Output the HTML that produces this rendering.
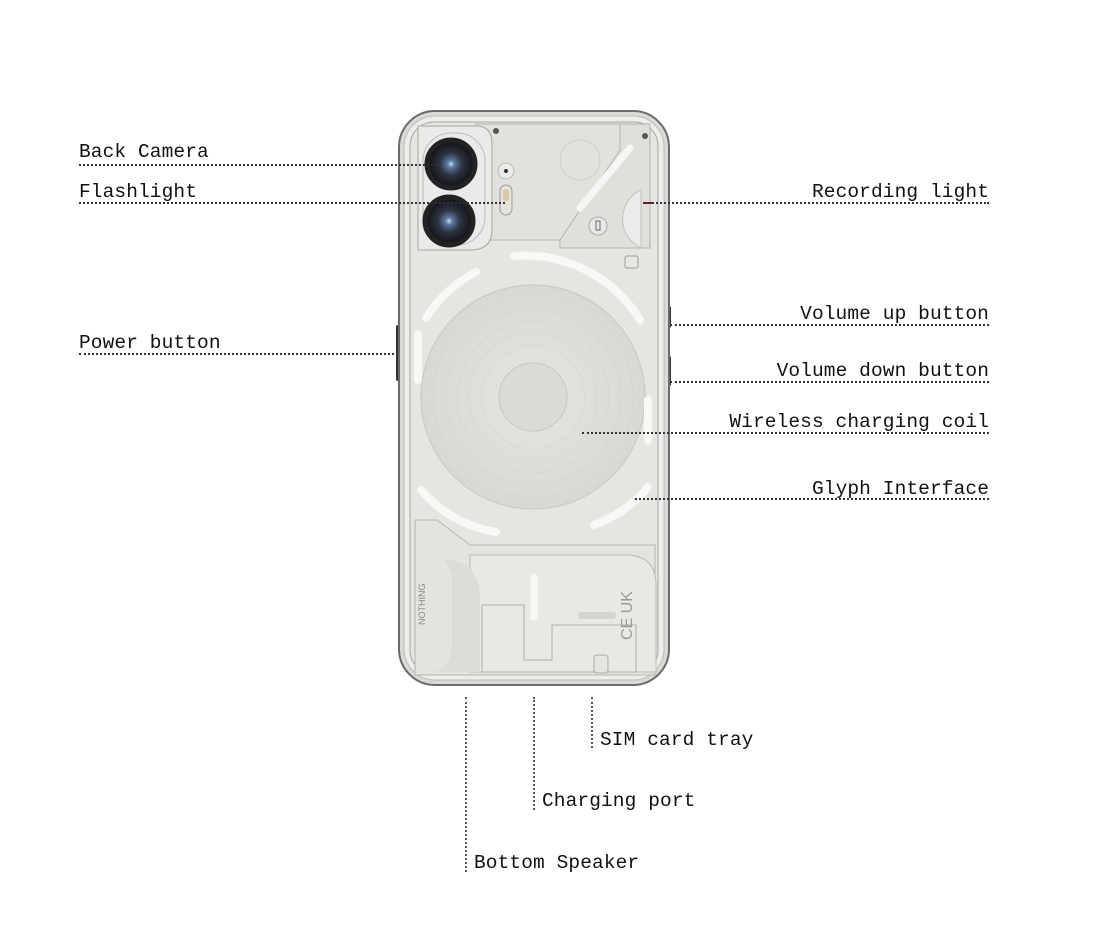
<!DOCTYPE html>
<html><head><style>
html,body{margin:0;padding:0;background:#fff;}
body{width:1096px;height:925px;position:relative;overflow:hidden;font-family:"Liberation Mono","DejaVu Sans Mono",monospace;}
.t{position:absolute;font-size:19.5px;color:#111;line-height:24px;white-space:nowrap;letter-spacing:0.1px}
.h{position:absolute;border-top:2px dotted #333;height:0}
.v{position:absolute;border-left:2px dotted #555;width:0}
</style></head><body>
<svg width="1096" height="925" style="position:absolute;left:0;top:0">
<defs>
<radialGradient id="coil" cx="50%" cy="50%" r="50%">
<stop offset="0" stop-color="#e6e5e2"/><stop offset="1" stop-color="#dad8d5"/>
</radialGradient>
<radialGradient id="lens" cx="50%" cy="50%" r="50%">
<stop offset="0" stop-color="#c8d8f0"/><stop offset="0.15" stop-color="#5a78a0"/><stop offset="0.45" stop-color="#2c3440"/><stop offset="1" stop-color="#0c0c0e"/>
</radialGradient>
</defs>
<rect x="396" y="325" width="5" height="56" rx="2" fill="#333"/>
<rect x="666" y="306" width="5" height="22" rx="2" fill="#333"/>
<rect x="666" y="356" width="5" height="30" rx="2" fill="#333"/>
<rect x="399" y="111" width="270" height="574" rx="36" fill="#dcdad7" stroke="#6b6a68" stroke-width="2"/>
<rect x="404" y="116" width="260" height="564" rx="31" fill="#eeedeb" stroke="#bdbbb8" stroke-width="1"/>
<rect x="410" y="122" width="248" height="552" rx="24" fill="#e6e5e2" stroke="#a9a7a4" stroke-width="1"/>
<path d="M476 124 H620 V240 H476 Z" fill="#e2e1de" stroke="#b5b3b0"/>
<path d="M620 124 H650 V248 H560 V240 L620 150 Z" fill="#e0dfdc" stroke="#b5b3b0"/>
<circle cx="580" cy="160" r="20" fill="none" stroke="#d0cecb"/>
<path d="M641 190 A32 32 0 0 0 641 248 Z" fill="#ecebe9" stroke="#c4c2bf"/>
<line x1="643" y1="203" x2="654" y2="203" stroke="#7a1a1a" stroke-width="2"/>
<line x1="630" y1="148" x2="580" y2="208" stroke="#f6f6f5" stroke-width="7" stroke-linecap="round"/>
<circle cx="598" cy="226" r="9" fill="#eae9e7" stroke="#aaa"/>
<rect x="596" y="221" width="4" height="9" fill="none" stroke="#666" stroke-width="1"/>
<rect x="625" y="256" width="13" height="12" rx="2" fill="#e8e7e4" stroke="#999"/>
<path d="M418 126 H476 Q492 126 492 144 V230 Q492 250 470 250 H418 Z" fill="#eceae8" stroke="#a8a6a3"/>
<rect x="423" y="133" width="62" height="112" rx="28" fill="none" stroke="#bcbab7"/>
<circle cx="451" cy="164" r="25" fill="url(#lens)"/>
<circle cx="451" cy="164" r="24" fill="none" stroke="#222" stroke-width="5"/>
<circle cx="449" cy="221" r="25" fill="url(#lens)"/>
<circle cx="449" cy="221" r="24" fill="none" stroke="#222" stroke-width="5"/>
<circle cx="506" cy="171" r="8" fill="#eceae8" stroke="#bbb"/>
<circle cx="506" cy="171" r="2" fill="#333"/>
<rect x="500" y="185" width="12" height="30" rx="6" fill="#e6e3dc" stroke="#999"/>
<rect x="503" y="189" width="6" height="12" rx="3" fill="#d8c8a0"/>
<g fill="#555"><circle cx="496" cy="131" r="3"/><circle cx="645" cy="136" r="3"/><circle cx="420" cy="660" r="3"/><circle cx="511" cy="661" r="3"/><circle cx="636" cy="664" r="3"/><circle cx="503" cy="619" r="3"/><circle cx="636" cy="617" r="3"/></g>
<circle cx="533" cy="397" r="112" fill="url(#coil)" stroke="#c8c6c3"/>
<g fill="none" stroke="#d0cecb" stroke-width="0.6" opacity="0.7">
<circle cx="533" cy="397" r="100"/><circle cx="533" cy="397" r="88"/><circle cx="533" cy="397" r="76"/><circle cx="533" cy="397" r="64"/><circle cx="533" cy="397" r="52"/>
</g>
<circle cx="533" cy="397" r="34" fill="#dcdad7" stroke="#c8c6c3"/>
<g fill="none" stroke="#f8f8f7" stroke-width="8" stroke-linecap="round">
<path d="M426 318 A130 130 0 0 1 476 272"/>
<path d="M514 256 A135 135 0 0 1 640 320"/>
<path d="M421 490 A125 125 0 0 0 496 532"/>
<path d="M594 525 A125 125 0 0 0 648 487"/>
<line x1="418" y1="334" x2="418" y2="380"/>
<line x1="648" y1="400" x2="648" y2="440"/>
</g>
<path d="M437 520 L470 545 H655 V675 H415 V520 Z" fill="#e4e3e0" stroke="#b7b5b2"/>
<path d="M470 555 H625 Q656 555 656 585 V672 H470 Z" fill="#e9e8e5" stroke="#bdbbb8"/>
<path d="M445 560 Q480 560 480 600 V672 H430 Q452 672 452 640 V575 Z" fill="#dddbd8"/>
<path d="M482 605 H524 V660 H552 V625 H636 V672 H482 Z" fill="none" stroke="#b0aeab"/>
<line x1="534" y1="577" x2="534" y2="617" stroke="#f7f7f6" stroke-width="7" stroke-linecap="round"/>
<rect x="578" y="612" width="38" height="7" rx="3" fill="#d6d4d1"/>
<rect x="594" y="655" width="14" height="18" rx="3" fill="#e6e5e2" stroke="#aaa"/>
<text x="425" y="625" transform="rotate(-90 425 625)" font-size="9" fill="#888" font-family="Liberation Sans,sans-serif">NOTHING</text>
<text x="632" y="640" transform="rotate(-90 632 640)" font-size="16" fill="#999" font-family="Liberation Sans,sans-serif">CE UK</text>
</svg>

<div class="t" style="left:79px;top:140px">Back Camera</div>
<div class="h" style="left:79px;top:164px;width:362px"></div>
<div class="t" style="left:79px;top:180px">Flashlight</div>
<div class="h" style="left:79px;top:202px;width:426px"></div>
<div class="t" style="left:79px;top:331px">Power button</div>
<div class="h" style="left:79px;top:353px;width:319px"></div>

<div class="t" style="right:107px;top:180px">Recording light</div>
<div class="h" style="left:645px;top:202px;width:344px"></div>
<div class="t" style="right:107px;top:302px">Volume up button</div>
<div class="h" style="left:670px;top:324px;width:319px"></div>
<div class="t" style="right:107px;top:359px">Volume down button</div>
<div class="h" style="left:670px;top:381px;width:319px"></div>
<div class="t" style="right:107px;top:410px">Wireless charging coil</div>
<div class="h" style="left:582px;top:432px;width:407px"></div>
<div class="t" style="right:107px;top:477px">Glyph Interface</div>
<div class="h" style="left:635px;top:498px;width:354px"></div>

<div class="v" style="left:591px;top:697px;height:51px"></div>
<div class="t" style="left:600px;top:728px">SIM card tray</div>
<div class="v" style="left:533px;top:697px;height:113px"></div>
<div class="t" style="left:542px;top:789px">Charging port</div>
<div class="v" style="left:465px;top:697px;height:175px"></div>
<div class="t" style="left:474px;top:851px">Bottom Speaker</div>
</body></html>
